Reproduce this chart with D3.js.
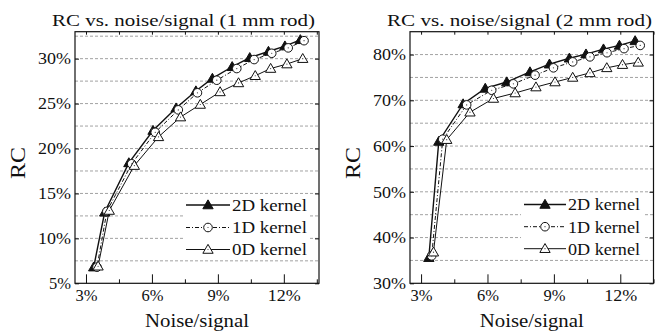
<!DOCTYPE html>
<html><head><meta charset="utf-8">
<script src="https://cdn.jsdelivr.net/npm/d3@7"></script>
<style>body{margin:0;background:#fff}svg{display:block}svg text{font-family:'Liberation Serif','Tinos','Times New Roman','DejaVu Serif',serif;fill:#111}</style>
</head><body><svg id="c" width="663" height="332"></svg>
<script>
// ---- data (noise/signal %, RC %) ----
const seriesNames = ["2D kernel", "1D kernel", "0D kernel"];
// 1 mm rod
const rod1_2D_x = [3.35, 3.85, 4.95, 6.05, 7.1, 8.0, 8.75, 9.65, 10.45, 11.3, 12.05, 12.75];
const rod1_2D_y = [6.8, 12.9, 18.4, 22.0, 24.5, 26.4, 27.8, 29.1, 30.1, 30.8, 31.4, 32.1];
const rod1_1D_x = [3.5, 3.95, 5.08, 6.15, 7.2, 8.07, 8.95, 9.86, 10.65, 11.45, 12.2, 12.92];
const rod1_1D_y = [6.8, 13.0, 18.3, 21.8, 24.3, 26.2, 27.6, 28.9, 29.9, 30.6, 31.2, 32.0];
const rod1_0D_x = [3.55, 4.06, 5.2, 6.3, 7.3, 8.2, 9.1, 9.94, 10.7, 11.4, 12.14, 12.86];
const rod1_0D_y = [6.9, 13.1, 18.1, 21.3, 23.5, 24.9, 26.3, 27.3, 28.1, 28.9, 29.4, 30.0];
// 2 mm rod
const rod2_2D_x = [3.35, 3.8, 4.9, 5.9, 6.87, 7.92, 8.8, 9.7, 10.45, 11.24, 11.96, 12.67];
const rod2_2D_y = [35.6, 61.0, 69.2, 72.6, 74.0, 76.2, 77.9, 79.2, 80.1, 81.2, 82.0, 83.0];
const rod2_1D_x = [3.48, 3.98, 5.06, 6.19, 7.17, 8.15, 8.98, 9.85, 10.63, 11.4, 12.17, 12.9];
const rod2_1D_y = [36.0, 61.5, 69.0, 72.2, 73.6, 75.5, 77.1, 78.4, 79.5, 80.4, 81.3, 82.0];
const rod2_0D_x = [3.56, 4.16, 5.21, 6.27, 7.25, 8.19, 9.05, 9.85, 10.63, 11.39, 12.1, 12.81];
const rod2_0D_y = [36.8, 61.4, 67.4, 70.4, 71.6, 72.9, 74.0, 75.0, 76.0, 77.1, 77.8, 78.3];
// ticks
const xTickLabels = [3, 6, 9, 12];
const xMinorTicks = [3, 4.5, 6, 7.5, 9, 10.5, 12, 13.5];
const rod1_yTicks = [5, 10, 15, 20, 25, 30];
const rod1_yGrid = [7.5, 10, 12.5, 15, 17.5, 20, 22.5, 25, 27.5, 30, 32.5];
const rod2_yTicks = [30, 40, 50, 60, 70, 80];
const rod2_yGrid = [35, 40, 45, 50, 55, 60, 65, 70, 75, 80];

const FONT = "'Liberation Serif','Tinos','Times New Roman','DejaVu Serif',serif";
const svg = d3.select("#c");

function panel(cfg) {
  const x = d3.scaleLinear().domain(cfg.xd).range([cfg.x0, cfg.x1]);
  const y = d3.scaleLinear().domain(cfg.yd).range([283.3, 31.7]);
  const g = svg.append("g");
  // grid
  g.selectAll(".grid").data(cfg.grid).enter().append("line")
    .attr("x1", cfg.x0).attr("x2", cfg.x1).attr("y1", d => y(d)).attr("y2", d => y(d))
    .attr("stroke", "#8a8a8a").attr("stroke-width", 0.8).attr("stroke-dasharray", "3,2");
  // axes via d3
  const fmt = d => d + "%";
  const yAx = g.append("g").attr("transform", `translate(${cfg.x0},0)`)
    .call(d3.axisLeft(y).tickValues(cfg.yticks).tickFormat(fmt).tickSizeInner(-4).tickSizeOuter(0).tickPadding(4));
  const yAxR = g.append("g").attr("transform", `translate(${cfg.x1},0)`)
    .call(d3.axisRight(y).tickValues(cfg.yticks).tickFormat("").tickSizeInner(-4).tickSizeOuter(0));
  const xAx = g.append("g").attr("transform", `translate(0,283.3)`)
    .call(d3.axisBottom(x).tickValues(xTickLabels).tickFormat(fmt).tickSizeInner(-9).tickSizeOuter(0).tickPadding(6));
  const xAxMinor = g.append("g").attr("transform", `translate(0,283.3)`)
    .call(d3.axisBottom(x).tickValues(xMinorTicks.filter(v => !xTickLabels.includes(v))).tickFormat("").tickSizeInner(-4).tickSizeOuter(0));
  const xAxTop = g.append("g").attr("transform", `translate(0,31.7)`)
    .call(d3.axisTop(x).tickValues(xMinorTicks).tickFormat("").tickSizeInner(-3).tickSizeOuter(0));
  [yAx, yAxR, xAx, xAxMinor, xAxTop].forEach(a => {
    a.attr("font-family", FONT);
    a.selectAll("path.domain").remove();
    a.selectAll("line").attr("stroke", "#111").attr("stroke-width", 1);
    a.selectAll("text").attr("font-size", 16.5).attr("fill", "#111").attr("font-family", FONT)
      .attr("textLength", d => (String(d).length > 1 ? 33 : 22)).attr("lengthAdjust", "spacingAndGlyphs");
  });
  // frame
  g.append("rect").attr("x", cfg.x0).attr("y", 31.7).attr("width", cfg.x1 - cfg.x0).attr("height", 283.3 - 31.7)
    .attr("fill", "none").attr("stroke", "#111").attr("stroke-width", 1.2);
  // legend background
  g.append("rect").attr("x", cfg.lx - 3).attr("y", 195.5).attr("width", cfg.lw).attr("height", 63)
    .attr("fill", "#fff");
  const styles = [
    {dash: null, sw: 1.4, marker: "tri", fill: "#111"},
    {dash: "4,2,1,2", sw: 1, marker: "circ", fill: "#fff"},
    {dash: null, sw: 1, marker: "tri", fill: "#fff"}
  ];
  const tri = d3.symbol().type(d3.symbolTriangle).size(46);
  function drawMarker(sel, st, cx, cy) {
    if (st.marker === "tri") {
      sel.append("path").attr("d", tri()).attr("transform", `translate(${cx},${cy + 0.8})`)
        .attr("fill", st.fill).attr("stroke", "#111").attr("stroke-width", 1);
    } else {
      sel.append("circle").attr("cx", cx).attr("cy", cy).attr("r", 4.3)
        .attr("fill", st.fill).attr("stroke", "#111").attr("stroke-width", 1);
    }
    if (st.fill === "#fff") sel.append("circle").attr("cx", cx).attr("cy", cy).attr("r", 0.6).attr("fill", "#333");
  }
  const line = d3.line().x(d => x(d[0])).y(d => y(d[1]));
  cfg.series.forEach((s, i) => {
    const st = styles[i];
    const pts = s[0].map((v, k) => [v, s[1][k]]);
    g.append("path").attr("d", line(pts)).attr("fill", "none").attr("stroke", "#111")
      .attr("stroke-width", st.sw).attr("stroke-dasharray", st.dash);
    const mg = g.append("g");
    pts.forEach(p => drawMarker(mg, st, x(p[0]), y(p[1])));
  });
  // legend
  seriesNames.forEach((n, i) => {
    const st = styles[i];
    const ly = cfg.ly[i];
    g.append("line").attr("x1", cfg.lx).attr("x2", cfg.lx + cfg.llen).attr("y1", ly).attr("y2", ly)
      .attr("stroke", "#111").attr("stroke-width", st.sw).attr("stroke-dasharray", st.dash);
    drawMarker(g, st, cfg.lx + cfg.llen / 2, ly);
    g.append("text").attr("x", cfg.lx + cfg.llen + 2).attr("y", ly + 5.8).attr("font-size", 16.5)
      .attr("font-family", FONT)
      .attr("textLength", cfg.ltw).attr("lengthAdjust", "spacingAndGlyphs").text(n);
  });
  // titles
  g.append("text").attr("x", cfg.tx).attr("y", 26).attr("font-size", 17).attr("font-family", FONT)
    .attr("textLength", cfg.tw).attr("lengthAdjust", "spacingAndGlyphs").text(cfg.title);
  g.append("text").attr("x", (cfg.x0 + cfg.x1) / 2 - 52).attr("y", 326.5).attr("font-size", 19)
    .attr("font-family", FONT)
    .attr("textLength", 104).attr("lengthAdjust", "spacingAndGlyphs").text("Noise/signal");
  g.append("text").attr("transform", `translate(${cfg.rcx},${163}) rotate(-90)`).attr("text-anchor", "middle")
    .attr("font-family", FONT).attr("font-size", 21)
    .attr("textLength", 32).attr("lengthAdjust", "spacingAndGlyphs").text("RC");
}

panel({
  xd: [2.5, 13.6], x0: 75, x1: 319, yd: [5, 33],
  grid: rod1_yGrid, yticks: rod1_yTicks,
  series: [[rod1_2D_x, rod1_2D_y], [rod1_1D_x, rod1_1D_y], [rod1_0D_x, rod1_0D_y]],
  lx: 186, llen: 44, lw: 126, ly: [205, 227.5, 249.5], ltw: 75,
  title: "RC vs. noise/signal (1 mm rod)", tx: 52, tw: 263, rcx: 25
});
panel({
  xd: [2.5, 13.5], x0: 410, x1: 653.5, yd: [30, 85],
  grid: rod2_yGrid, yticks: rod2_yTicks,
  series: [[rod2_2D_x, rod2_2D_y], [rod2_1D_x, rod2_1D_y], [rod2_0D_x, rod2_0D_y]],
  lx: 524, llen: 42, lw: 124, ly: [204.5, 226.7, 248.7], ltw: 72,
  title: "RC vs. noise/signal (2 mm rod)", tx: 387, tw: 265, rcx: 360
});
</script></body></html>
